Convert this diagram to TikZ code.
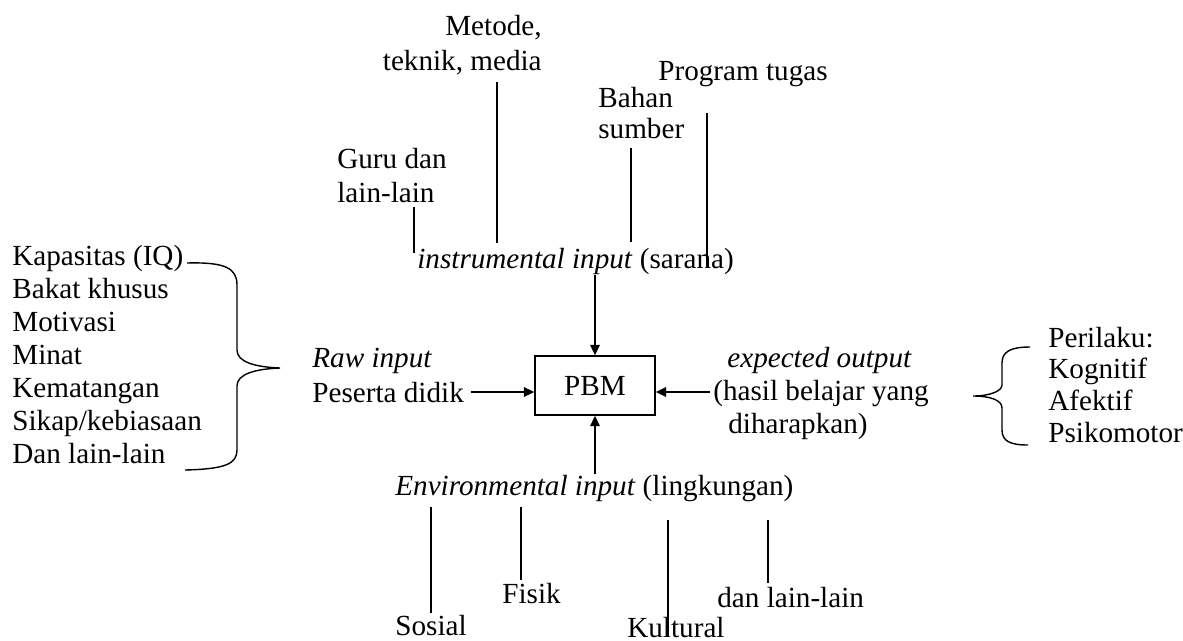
\documentclass[tikz,border=0pt]{standalone}
\usepackage{fontspec}
\setmainfont{Liberation Serif}
\usetikzlibrary{arrows.meta}
\newcommand\txtsize[1]{\fontsize{16.6}{#1}\selectfont}
\begin{document}
\begin{tikzpicture}[x=0.02cm, y=-0.02cm]
    \tikzstyle{line} = [-{Triangle[length=6pt,width=5.5pt]}, line width=0.8pt]
    \tikzstyle{stem} = [line width=0.8pt]
    \tikzstyle{txt} = [inner sep=0pt, anchor=base west, align=left, font=\txtsize{19.5}]
    \tikzstyle{rec} = [rectangle, draw=black, line width=0.8pt, minimum width=2.4cm, minimum height=1.18cm, font=\txtsize{19.5}]

    \useasboundingbox (0,0) rectangle (1183,640);

    % instrumental input
    \node(metode) [txt, anchor=base east, align=right, font=\txtsize{19.8}] at (542,70) {Metode,\\ teknik, media};
    \node(program) [txt] at (658,80) {Program tugas};
    \node(bahan) [txt, font=\txtsize{17.6}] at (598,138) {Bahan\\ sumber};
    \node(guru) [txt, font=\txtsize{19.3}] at (337,202) {Guru dan\\ lain-lain};
    \node(instr) [txt] at (417,268) {\textit{instrumental input} (sarana)};

    % raw input
    \node(karakter) [txt, font=\txtsize{18.7}] at (12,463) {Kapasitas (IQ)\\ Bakat khusus\\ Motivasi\\ Minat\\
    Kematangan\\ Sikap/kebiasaan\\ Dan lain-lain};
    \node(raw) [txt, font=\txtsize{19.8}] at (312,402) {\textit{Raw input}\\ Peserta didik};

    \node(pbm) [rec] at (595,385.5) {PBM};

    % expected output
    \node(expect) [txt, font=\txtsize{18.7}] at (713,433) {\hspace*{0.28cm}\textit{expected output}\\
    (hasil belajar yang\\ \hspace*{0.3cm}diharapkan)};
    \node(perilaku) [txt, font=\txtsize{18}] at (1048,442) {Perilaku:\\ Kognitif\\ Afektif\\ Psikomotor};

    % environmental input
    \node(env) [txt] at (395,495) {\textit{Environmental input} (lingkungan)};
    \node(sosial) [txt] at (395,635) {Sosial};
    \node(fisik) [txt] at (502,603) {Fisik};
    \node(kultural) [txt] at (627,637) {Kultural};
    \node(lain) [txt] at (717,607) {dan lain-lain};

    \foreach \n/\x/\ya/\yb in {guru/414/207/253, metode/497/82/243, bahan/631/148/242,
        program/707/113/267, sosial/431/507/613, fisik/521/507/580,
        kultural/668/520/636, lain/768/520/583}
        \draw[stem] (\x,\ya) coordinate (\n-a) -- (\x,\yb) coordinate (\n-b);

    \coordinate (mid) at (0,392);
    \draw[line] (instr.south -| pbm.north) -- (pbm.north);
    \draw[line] (env.north -| pbm.south) -- (pbm.south);
    \draw[line] ([xshift=0.14cm]raw.east |- mid) -- (pbm.west |- mid);
    \draw[line] ([xshift=-0.06cm]expect.west |- mid) -- (pbm.east |- mid);

    % braces
    \draw[stem] (187,263) .. controls (225,262) and (237,268) .. (237,285) -- (237,350)
        .. controls (237,362) and (255,367) .. (280,368)
        .. controls (255,369) and (237,374) .. (237,386) -- (237,450)
        .. controls (237,464) and (225,469) .. (185,470);
    \draw[stem] (1030,347) .. controls (1010,347) and (1002,352) .. (1002,363) -- (1002,385)
        .. controls (1002,391) and (990,396) .. (973,396)
        .. controls (990,396) and (1002,400) .. (1002,408) -- (1002,430)
        .. controls (1002,441) and (1010,445) .. (1028,445);
\end{tikzpicture}
\end{document}
